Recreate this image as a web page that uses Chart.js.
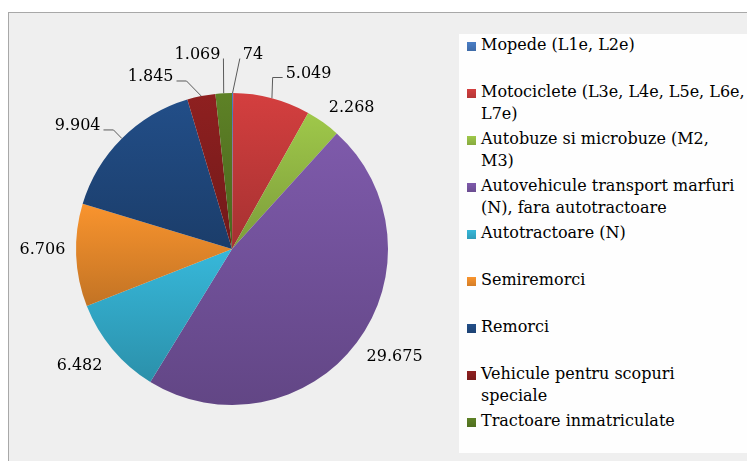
<!DOCTYPE html>
<html>
<head>
<meta charset="utf-8">
<title>Vehicule inmatriculate</title>
<script src="https://cdn.jsdelivr.net/npm/chart.js@4.4.0/dist/chart.umd.min.js"></script>
<style>
  html, body { margin: 0; padding: 0; background: #fff; overflow: hidden; }
  #stage { position: relative; width: 747px; height: 461px; overflow: hidden; }
  #frame {
    position: absolute; left: 8px; top: 12px; width: 800px; height: 500px;
    background: #efefef; border: 1px solid #a8a8a8;
  }
  #pie { position: absolute; left: 0; top: 0; }
  #legend {
    position: absolute; left: 459px; top: 34px; width: 300px; height: 419px;
    background: #fefefe;
    font-family: "DejaVu Serif", serif; font-size: 16px; line-height: 21.5px; color: #000;
  }
  .item { position: relative; height: 47px; }
  .item i { position: absolute; left: 8px; top: 8px; width: 8.5px; height: 8.5px; }
  .item span { position: absolute; left: 22px; top: 0; width: 264.5px; }
</style>
</head>
<body>
<div id="stage">
  <div id="frame"></div>
  <canvas id="pie" width="747" height="461"></canvas>
  <div id="legend"></div>
</div>
<script>
const categories = [
  'Mopede (L1e, L2e)',
  'Motociclete (L3e, L4e, L5e, L6e, L7e)',
  'Autobuze si microbuze (M2, M3)',
  'Autovehicule transport marfuri (N), fara autotractoare',
  'Autotractoare (N)',
  'Semiremorci',
  'Remorci',
  'Vehicule pentru scopuri speciale',
  'Tractoare inmatriculate'
];
const vehicleCounts = [74, 5049, 2268, 29675, 6482, 6706, 9904, 1845, 1069];
const sliceColors = ['#4a7ec6', '#d43f3f', '#9fc84a', '#7e5aab', '#37b8da', '#f9942e', '#224e88', '#8f2020', '#5e8226'];

// where each value label sits: turn (deg) off the slice middle, distance from centre
const labelPlacement = [
  { turn: 5.9, dist: 197.6, leader: true },
  { turn: 8.5, dist: 193.3, leader: true },
  { turn: 4.2, dist: 186.4, leader: false },
  { turn: -3.8, dist: 194.0, leader: false },
  { turn: 3.0, dist: 190.7, leader: false },
  { turn: 2.6, dist: 189.5, leader: false },
  { turn: -6.1, dist: 198.7, leader: true },
  { turn: -13.7, dist: 192.1, leader: true },
  { turn: -6.9, dist: 199.5, leader: true }
];

function formatCount(v) {
  return String(v).replace(/\B(?=(\d{3})+(?!\d))/g, '.');
}

function shade(hex, f) {
  const n = parseInt(hex.slice(1), 16);
  const c = [(n >> 16) & 255, (n >> 8) & 255, n & 255].map(v => Math.round(v * f));
  return `rgb(${c[0]},${c[1]},${c[2]})`;
}

// vertical top-light / bottom-dark fill over each slice's own extent
const sliceGradient = {
  id: 'sliceGradient',
  beforeDatasetsDraw(chart) {
    const ctx = chart.ctx;
    chart.getDatasetMeta(0).data.forEach((arc, i) => {
      const { x, y, startAngle, endAngle, outerRadius } =
        arc.getProps(['x', 'y', 'startAngle', 'endAngle', 'outerRadius'], true);
      const ys = [y, y + outerRadius * Math.sin(startAngle), y + outerRadius * Math.sin(endAngle)];
      for (let k = -4; k <= 4; k++) {
        const a = k * Math.PI / 2;
        if (a > startAngle && a < endAngle) ys.push(y + outerRadius * Math.sin(a));
      }
      const top = Math.min(...ys);
      const bottom = Math.max(...ys);
      const g = ctx.createLinearGradient(0, top, 0, Math.max(bottom, top + 1));
      g.addColorStop(0, sliceColors[i]);
      g.addColorStop(1, shade(sliceColors[i], 0.78));
      arc.options.backgroundColor = g;
    });
  }
};

const pieLabels = {
  id: 'pieLabels',
  afterDatasetsDraw(chart) {
    const ctx = chart.ctx;
    const values = chart.data.datasets[0].data;
    ctx.save();
    ctx.font = '16px "DejaVu Serif"';
    ctx.fillStyle = '#000';
    ctx.strokeStyle = '#5a5a5a';
    ctx.lineWidth = 1;
    ctx.textAlign = 'center';
    ctx.textBaseline = 'alphabetic';
    chart.getDatasetMeta(0).data.forEach((arc, i) => {
      const { x, y, startAngle, endAngle, outerRadius } =
        arc.getProps(['x', 'y', 'startAngle', 'endAngle', 'outerRadius'], true);
      const mid = (startAngle + endAngle) / 2;
      const place = labelPlacement[i];
      const a = mid + place.turn * Math.PI / 180;
      const cx = x + place.dist * Math.cos(a);
      const cy = y + place.dist * Math.sin(a);
      const text = formatCount(values[i]);
      const w = ctx.measureText(text).width;
      ctx.fillText(text, cx, cy + 6);
      if (!place.leader) return;
      const px = x + outerRadius * Math.cos(mid);
      const py = y + outerRadius * Math.sin(mid);
      const toRight = cx > px;
      const ax = toRight ? cx - w / 2 - 3 : cx + w / 2 + 3;
      const ay = cy + 6;
      ctx.beginPath();
      ctx.moveTo(px, py);
      if (Math.abs(px - ax) > 10) ctx.lineTo(ax + (toRight ? -10 : 10), ay);
      ctx.lineTo(ax, ay);
      ctx.stroke();
    });
    ctx.restore();
  }
};

const chart = new Chart(document.getElementById('pie'), {
  type: 'pie',
  data: {
    labels: categories,
    datasets: [{
      data: vehicleCounts,
      backgroundColor: sliceColors,
      borderWidth: 0
    }]
  },
  options: {
    responsive: false,
    animation: false,
    layout: { padding: { left: 76, top: 93, right: 359, bottom: 56 } },
    plugins: {
      legend: { display: false },
      tooltip: { enabled: false }
    }
  },
  plugins: [sliceGradient, pieLabels]
});

// legend built from the chart's own labels and colours
const legend = document.getElementById('legend');
chart.data.labels.forEach((label, i) => {
  const item = document.createElement('div');
  item.className = 'item';
  const box = document.createElement('i');
  box.style.background = `linear-gradient(${sliceColors[i]}, ${shade(sliceColors[i], 0.85)})`;
  const span = document.createElement('span');
  span.textContent = label;
  item.append(box, span);
  legend.append(item);
});
</script>
</body>
</html>
